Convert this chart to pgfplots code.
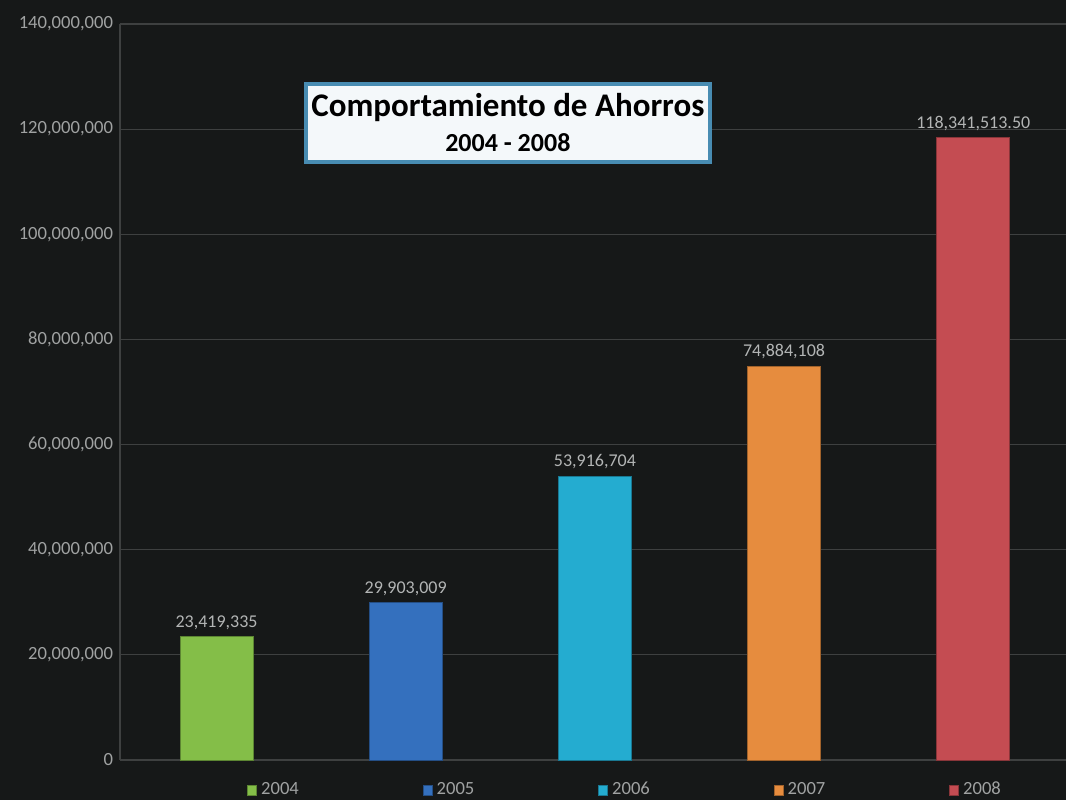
\documentclass[border=0pt]{standalone}
\usepackage{pgfplots}
\pgfplotsset{compat=1.18}
\usepackage{fontspec}
\setmainfont{Carlito}
\definecolor{bg}{RGB}{22,24,24}
\definecolor{gridc}{RGB}{62,64,64}
\definecolor{tickc}{RGB}{160,162,162}
\definecolor{c2004}{RGB}{132,190,72}
\definecolor{c2005}{RGB}{52,112,190}
\definecolor{c2006}{RGB}{36,172,208}
\definecolor{c2007}{RGB}{230,140,62}
\definecolor{c2008}{RGB}{196,76,82}
\definecolor{boxc}{RGB}{72,140,178}
\begin{document}
\begin{tikzpicture}
\fill[bg] (-60pt,-20pt) rectangle (473pt,380pt);
\begin{axis}[
    at={(0,0)}, anchor=south west,
    scale only axis,
    width=473pt, height=368pt,
    ybar, bar width=36.5pt, bar shift=0pt,
    xmin=-0.51, xmax=4.49,
    ymin=0, ymax=140000000,
    xtick=\empty,
    ytick={0,20000000,40000000,60000000,80000000,100000000,120000000,140000000},
    scaled y ticks=false,
    yticklabel style={/pgf/number format/.cd, fixed, precision=0, 1000 sep={,}, assume math mode=true},
    tick label style={font=\fontsize{9.3}{11}\selectfont, text=tickc},
    major tick length=0pt,
    ymajorgrids, grid style={gridc, line width=0.6pt},
    axis line style={gridc, line width=0.8pt},
    axis x line*=bottom, axis y line*=left,
    point meta=explicit symbolic,
    nodes near coords,
    nodes near coords style={font=\fontsize{9}{11}\selectfont, text=tickc!80!white, inner sep=3.5pt},
    legend columns=5,
    legend style={at={(0.535,-15pt)}, anchor=center, draw=none, fill=none,
        text=tickc, font=\fontsize{9.3}{11}\selectfont,
        /tikz/every even column/.append style={column sep=60pt}},
    legend image code/.code={\fill[#1] (0pt,-2.5pt) rectangle (4.5pt,2.5pt);},
]
\addplot[fill=c2004, draw=c2004!70!black] coordinates {(0,23419335) [23,419,335]};
\addplot[fill=c2005, draw=c2005!70!black] coordinates {(1,29903009) [29,903,009]};
\addplot[fill=c2006, draw=c2006!70!black] coordinates {(2,53916704) [53,916,704]};
\addplot[fill=c2007, draw=c2007!70!black] coordinates {(3,74884108) [74,884,108]};
\addplot[fill=c2008, draw=c2008!70!black] coordinates {(4,118341513.5) [118,341,513.50]};
\legend{2004,2005,2006,2007,2008}
\node[fill=white!94!boxc, draw=boxc, line width=2pt, minimum width=202pt, minimum height=39pt,
      align=center, inner sep=1pt, font=\bfseries]
  at (rel axis cs:0.41,0.866)
  {{\fontsize{16.5}{18}\selectfont Comportamiento de Ahorros}\\[5.5pt]{\fontsize{13}{14}\selectfont 2004 - 2008}};
\end{axis}
\pgfresetboundingbox
\path[use as bounding box] (-60pt,-20pt) rectangle (473pt,380pt);
\end{tikzpicture}
\end{document}
